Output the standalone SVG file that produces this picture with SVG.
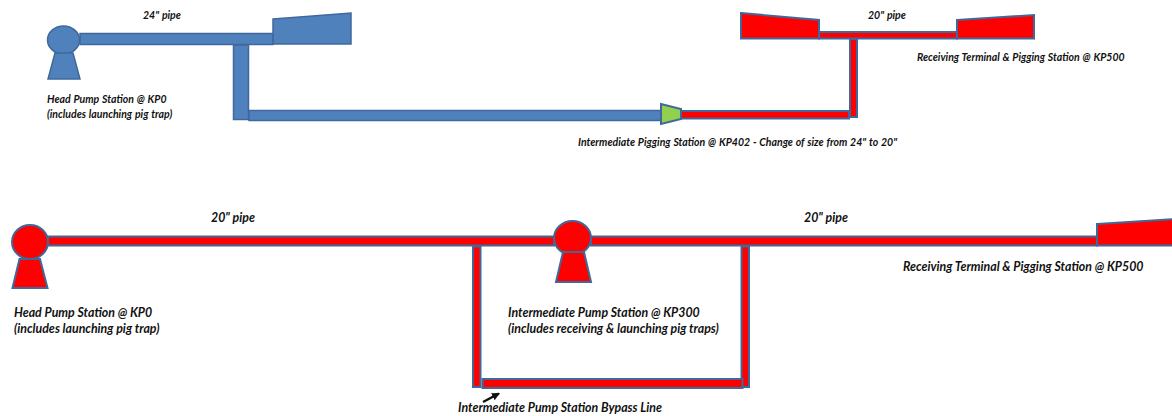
<svg xmlns="http://www.w3.org/2000/svg" width="1172" height="416" viewBox="0 0 1172 416">
<style>
.b{fill:#4f81bd;stroke:#41689a;stroke-width:1.5}
.r{fill:#f00;stroke:#41689a;stroke-width:2}
.g{fill:#92d050;stroke:#41689a;stroke-width:2}
text{font-family:Lato,"Liberation Sans",sans-serif;font-weight:700;font-style:italic;fill:#111}
.s{font-size:10.5px;word-spacing:.5px}
.l{font-size:12.35px}
</style>
<defs><marker id="ah" markerWidth="9" markerHeight="9" refX="7" refY="4" orient="auto" markerUnits="userSpaceOnUse"><path d="M0,0L8,4L0,8z" fill="#111"/></marker></defs>
<g id="connectors">
<rect class="b" x="80" y="33.500" width="193" height="11"/>
<rect class="b" x="233.500" y="45" width="15" height="74.500"/>
<rect class="b" x="249" y="110.500" width="412" height="10"/>
<rect class="r" x="681" y="111" width="168" height="7.500"/>
<rect class="r" x="850" y="39" width="7" height="78"/>
<rect class="r" x="819" y="32" width="138" height="6.500"/>
<rect class="r" x="48" y="236.500" width="506" height="9"/>
<rect class="r" x="591" y="236.500" width="506" height="9"/>
<rect class="r" x="473" y="246.500" width="7.500" height="140.500"/>
<rect class="r" x="741.500" y="246.500" width="7.500" height="140.500"/>
<rect class="r" x="482.500" y="379" width="260" height="9"/>
<path d="M483,402L499,393.500" stroke="#111" stroke-width="2.500" fill="none" marker-end="url(#ah)"/>
</g>
<g id="top-head-pump">
<ellipse class="b" cx="63.500" cy="40" rx="16" ry="14"/>
<polygon class="b" points="48,79 80,79 73,53 55,53"/>
<text class="s" x="47" y="103">Head Pump Station @ KP0</text>
<text class="s" x="47" y="118">(includes launching pig trap)</text>
</g>
<g id="top-trap-24"><polygon class="b" points="273,19 351,13 351,44 273,44"/></g>
<text class="s" x="143" y="19">24" pipe</text>
<g id="top-intermediate-pigging">
<polygon class="g" points="661,104 681,109 681,119 661,124"/>
<text class="s" x="578" y="146" word-spacing="1">Intermediate Pigging Station @ KP402 - Change of size from 24" to 20"</text>
</g>
<g id="top-trap-left"><polygon class="r" points="741,13 819,20 819,38.500 741,38.500"/></g>
<g id="top-trap-right">
<polygon class="r" points="957,20 1034,15 1034,38.500 957,38.500"/>
<text class="s" x="917" y="61">Receiving Terminal &amp; Pigging Station @ KP500</text>
</g>
<text class="s" x="868" y="19">20" pipe</text>
<g id="bottom-head-pump">
<ellipse class="r" cx="30" cy="242" rx="18" ry="17"/>
<polygon class="r" points="12.500,288 47.500,288 40,259 19.500,259"/>
<text class="l" x="14" y="317">Head Pump Station @ KP0</text>
<text class="l" x="14" y="333">(includes launching pig trap)</text>
</g>
<g id="bottom-intermediate-pump">
<ellipse class="r" cx="572.500" cy="238" rx="18.500" ry="17"/>
<polygon class="r" points="556,282 591,282 584,252 563,252"/>
<text class="l" x="508" y="317">Intermediate Pump Station @ KP300</text>
<text class="l" x="508" y="333">(includes receiving &amp; launching pig traps)</text>
</g>
<g id="bottom-trap">
<polygon class="r" points="1097,224 1174,219 1174,245.500 1097,245.500"/>
<text class="l" x="903" y="271">Receiving Terminal &amp; Pigging Station @ KP500</text>
</g>
<text class="l" x="211" y="222">20" pipe</text>
<text class="l" x="804" y="222">20" pipe</text>
<text class="l" x="458" y="412">Intermediate Pump Station Bypass Line</text>
</svg>
